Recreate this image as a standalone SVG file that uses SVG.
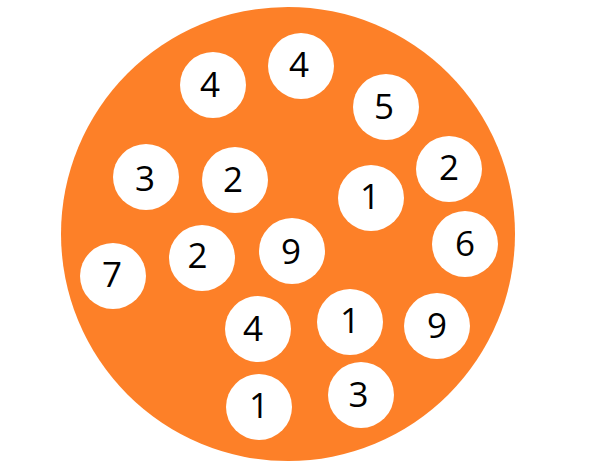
<svg xmlns="http://www.w3.org/2000/svg" width="599" height="469" viewBox="0 0 599 469">
<style>
.ball{fill:#ffffff}
.num{font-family:"Open Sans","Noto Sans","Liberation Sans",sans-serif;font-size:35px;fill:#000000;text-anchor:middle}
</style>
<rect width="599" height="469" fill="#ffffff"/>
<g id="disc"><circle cx="288" cy="234" r="227" fill="#FD8028"/></g>
<g id="connectors"></g>
<g id="n1"><circle class="ball" cx="213" cy="85" r="33"/><text class="num" x="210" y="97">4</text></g>
<g id="n2"><circle class="ball" cx="301" cy="66" r="33"/><text class="num" x="299" y="77">4</text></g>
<g id="n3"><circle class="ball" cx="386" cy="107" r="33"/><text class="num" x="384" y="119">5</text></g>
<g id="n4"><circle class="ball" cx="146" cy="177" r="33"/><text class="num" x="145" y="191">3</text></g>
<g id="n5"><circle class="ball" cx="235" cy="180" r="33"/><text class="num" x="233" y="192">2</text></g>
<g id="n6"><circle class="ball" cx="449" cy="169" r="33"/><text class="num" x="449" y="180">2</text></g>
<g id="n7"><circle class="ball" cx="371" cy="198" r="33"/><text class="num" x="370" y="209">1</text></g>
<g id="n8"><circle class="ball" cx="113" cy="276" r="33"/><text class="num" x="112" y="287">7</text></g>
<g id="n9"><circle class="ball" cx="202" cy="258" r="33"/><text class="num" x="197.5" y="268">2</text></g>
<g id="n10"><circle class="ball" cx="292" cy="251" r="33"/><text class="num" x="291" y="264">9</text></g>
<g id="n11"><circle class="ball" cx="465" cy="244" r="33"/><text class="num" x="465" y="256">6</text></g>
<g id="n12"><circle class="ball" cx="258" cy="329" r="33"/><text class="num" x="253" y="341">4</text></g>
<g id="n13"><circle class="ball" cx="350" cy="322" r="33"/><text class="num" x="350" y="333">1</text></g>
<g id="n14"><circle class="ball" cx="437" cy="326" r="33"/><text class="num" x="437" y="338">9</text></g>
<g id="n15"><circle class="ball" cx="259" cy="407" r="33"/><text class="num" x="259" y="418">1</text></g>
<g id="n16"><circle class="ball" cx="361" cy="395" r="33"/><text class="num" x="358.5" y="407">3</text></g>
</svg>
